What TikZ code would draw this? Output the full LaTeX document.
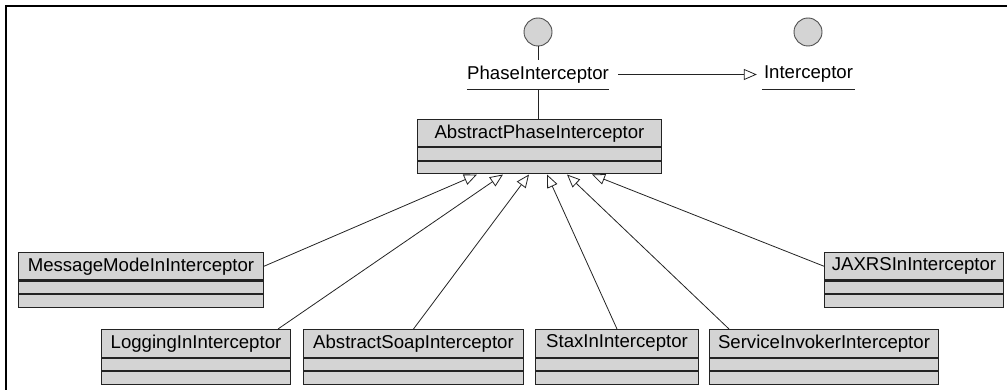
\documentclass[tikz,border=0pt]{standalone}
\usepackage{fontspec}
\setmainfont{Liberation Sans}
\usetikzlibrary{arrows.meta,calc}
\definecolor{boxgray}{RGB}{212,212,212}
\definecolor{edge}{RGB}{35,35,35}
\newcommand\umlclass[5]{%
  \node[hdr, anchor=north west, minimum width=#4] (#1) at (#2,#3) {#5};
  \node[comp, minimum width=#4] (#1a) at (#1.south) {};
  \node[comp, minimum width=#4] (#1b) at (#1a.south) {};
}
\begin{document}
\begin{tikzpicture}[x=1pt,y=-1pt,
  hdr/.style={draw=edge, fill=boxgray, line width=1pt, inner sep=0pt, minimum height=27.5pt, font=\fontsize{18.6}{22}\selectfont},
  comp/.style={draw=edge, fill=boxgray, line width=1pt, inner sep=0pt, minimum height=12.5pt, anchor=north},
  gen/.style={line width=0.8pt, draw=edge, -{Triangle[open, length=13pt, width=11pt, fill=white]}},
  iface/.style={circle, draw=edge!80, fill=boxgray, line width=0.9pt, minimum size=28pt, inner sep=0pt},
  ilabel/.style={inner sep=0pt, minimum height=29pt, font=\fontsize{18.6}{22}\selectfont},
  frame/.style={line width=1.2pt, draw=black}
]
\useasboundingbox (0,0) rectangle (1007,390);
\draw[frame] (6,390) -- (6,6) -- (1007,6);

% interfaces
\node[iface] (pic) at (538,32) {};
\node[iface] (ic) at (808,32) {};
\node[ilabel, minimum width=140pt] (pi) at (538,74.5) {PhaseInterceptor};
\node[ilabel, minimum width=93pt] (itf) at (808.5,74.5) {Interceptor};
\draw[line width=0.8pt, draw=edge] (pi.south west) -- (pi.south east);
\draw[line width=0.8pt, draw=edge] (itf.south west) -- (itf.south east);
\draw[line width=0.8pt, draw=edge] (pic) -- (pi);

% classes
\umlclass{apc}{417}{119}{244pt}{AbstractPhaseInterceptor}
\umlclass{mm}{18}{252}{245pt}{MessageModeInInterceptor}
\umlclass{jx}{824}{252}{179pt}{JAXRSInInterceptor}
\umlclass{lg}{101}{329}{189pt}{LoggingInInterceptor}
\umlclass{as}{303}{329}{220pt}{AbstractSoapInterceptor}
\umlclass{sx}{535}{329}{163pt}{StaxInInterceptor}
\umlclass{si}{709}{329}{229pt}{ServiceInvokerInterceptor}

\draw[line width=0.8pt, draw=edge] (pi.south) -- (pi.south |- apc.north);
\draw[gen] ([xshift=9pt]pi.east) -- ([xshift=-5pt]itf.west);

% tips on the bottom of AbstractPhaseInterceptor
\path (apcb.south west) ++(60,0) coordinate (t1);
\path (apcb.south west) ++(86,0) coordinate (t2);
\path (apcb.south west) ++(112,0) coordinate (t3);
\path (apcb.south west) ++(130,0) coordinate (t4);
\path (apcb.south west) ++(150,0) coordinate (t5);
\path (apcb.south west) ++(175,0) coordinate (t6);

\draw[gen] (mm.east) -- (t1);
\draw[gen] ([xshift=-13pt]lg.north east) -- (t2);
\draw[gen] (as.north) -- (t3);
\draw[gen] (sx.north) -- (t4);
\draw[gen] ([xshift=20pt]si.north west) -- (t5);
\draw[gen] (jx.west) -- (t6);
\end{tikzpicture}
\end{document}
